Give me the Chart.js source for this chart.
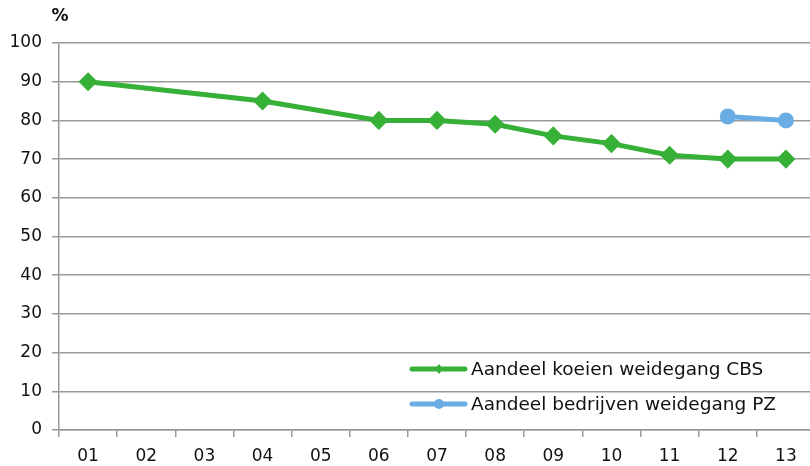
<!DOCTYPE html>
<html>
<head>
<meta charset="utf-8">
<script src="https://cdn.jsdelivr.net/npm/chart.js@4"></script>
<style>
  html, body { margin: 0; padding: 0; background: #fff; overflow: hidden; }
  #wrap { position: relative; width: 826px; height: 466px; }
</style>
</head>
<body>
<div id="wrap"><canvas id="weideChart"></canvas></div>
<script>
const labels = ['01', '02', '03', '04', '05', '06', '07', '08', '09', '10', '11', '12', '13'];
const koeienCBS = [90, null, null, 85, null, 80, 80, 79, 76, 74, 71, 70, 70];
const bedrijvenPZ = [null, null, null, null, null, null, null, null, null, null, null, 81, 80];
const seriesNames = ['Aandeel koeien weidegang CBS', 'Aandeel bedrijven weidegang PZ'];

const FONT = '"DejaVu Sans", Verdana, sans-serif';

// legend sits inside the plot, bottom right, no background
const innerLegend = {
    id: 'innerLegend',
    afterDraw(chart) {
        const c = chart.ctx;
        const area = chart.chartArea;
        const x0 = area.right - 403;
        const rows = [area.bottom - 61, area.bottom - 26];
        c.save();
        chart.data.datasets.forEach((ds, i) => {
            const y = rows[i];
            c.strokeStyle = ds.borderColor;
            c.lineWidth = 5;
            c.lineCap = 'round';
            c.beginPath();
            c.moveTo(x0, y);
            c.lineTo(x0 + 53, y);
            c.stroke();
            c.fillStyle = ds.borderColor;
            c.beginPath();
            if (i === 0) {
                c.moveTo(x0 + 27, y - 5);
                c.lineTo(x0 + 31, y);
                c.lineTo(x0 + 27, y + 5);
                c.lineTo(x0 + 23, y);
            } else {
                c.arc(x0 + 27, y, 5, 0, Math.PI * 2);
            }
            c.fill();
            c.fillStyle = '#111';
            c.font = '18.5px ' + FONT;
            c.textBaseline = 'middle';
            c.fillText(ds.label, x0 + 59, y + 1);
        });
        // unit label above the y axis
        c.font = 'bold 17px ' + FONT;
        c.textAlign = 'center';
        c.textBaseline = 'middle';
        c.fillText('%', area.left + 1, 17);
        c.restore();
    }
};

new Chart(document.getElementById('weideChart'), {
    type: 'line',
    data: {
        labels,
        datasets: [
            {
                label: seriesNames[0],
                data: koeienCBS,
                borderColor: '#36b036',
                backgroundColor: '#36b036',
                borderWidth: 5,
                pointStyle: 'rectRot',
                pointRadius: 6,
                pointHoverRadius: 6,
                spanGaps: true,
                tension: 0
            },
            {
                label: seriesNames[1],
                data: bedrijvenPZ,
                borderColor: '#6aade4',
                backgroundColor: '#6aade4',
                borderWidth: 5,
                pointStyle: 'circle',
                pointRadius: 5.5,
                pointHoverRadius: 5.5,
                tension: 0
            }
        ]
    },
    options: {
        responsive: true,
        maintainAspectRatio: false,
        animation: false,
        layout: { padding: { top: 43, right: 0, left: 0, bottom: 0 } },
        plugins: {
            legend: { display: false },
            tooltip: { enabled: false }
        },
        scales: {
            x: {
                offset: true,
                afterFit: s => { s.height = 36; },
                grid: {
                    offset: true,
                    drawOnChartArea: false,
                    color: '#999',
                    lineWidth: 1.5,
                    tickLength: 7
                },
                border: { color: '#999', width: 1.5 },
                ticks: {
                    color: '#111',
                    font: { family: FONT, size: 17 },
                    padding: 9,
                    maxRotation: 0,
                    autoSkip: false
                }
            },
            y: {
                min: 0,
                max: 100,
                afterFit: s => { s.width = 59; },
                grid: {
                    color: '#999',
                    lineWidth: 1.5,
                    tickLength: 7
                },
                border: { color: '#999', width: 1.5 },
                ticks: {
                    stepSize: 10,
                    color: '#111',
                    font: { family: FONT, size: 17 },
                    padding: 10
                }
            }
        }
    },
    plugins: [innerLegend]
});
</script>
</body>
</html>
